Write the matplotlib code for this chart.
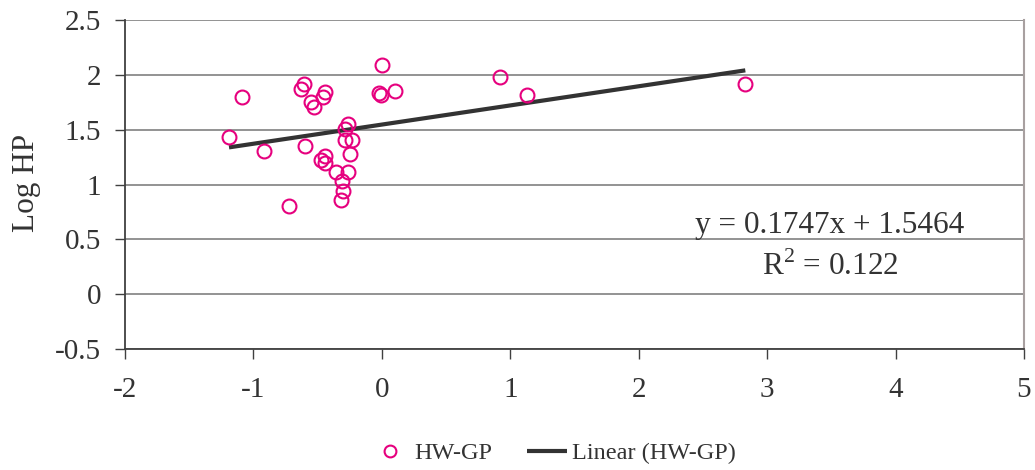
import matplotlib
matplotlib.use("Agg")
from matplotlib import rcParams
from matplotlib.pyplot import figure
from matplotlib.pyplot import close

rcParams["font.family"] = "Liberation Serif"
rcParams["mathtext.fontset"] = "custom"
rcParams["mathtext.rm"] = "Liberation Serif"

# scatter points (HW-GP)
hw_gp_x = [
    -1.19, -1.09, -0.92, -0.72, -0.63, -0.61, -0.60, -0.55, -0.53, -0.46,
    -0.44, -0.47, -0.44, -0.44, -0.36, -0.32, -0.31, -0.30, -0.29, -0.29,
    -0.26, -0.25, -0.26, -0.23, -0.02, -0.01, 0.00, 0.10, 0.92, 1.13, 2.83,
]
hw_gp_y = [
    1.43, 1.80, 1.31, 0.80, 1.87, 1.92, 1.35, 1.75, 1.71, 1.80,
    1.84, 1.22, 1.26, 1.20, 1.11, 0.86, 1.03, 0.94, 1.51, 1.41,
    1.11, 1.28, 1.55, 1.41, 1.83, 1.82, 2.09, 1.85, 1.98, 1.82, 1.92,
]

# trendline as printed on the chart
trend_slope = 0.1747
trend_intercept = 1.5464
trend_r2 = 0.122

x_ticks = [-2, -1, 0, 1, 2, 3, 4, 5]
y_ticks = [-0.5, 0, 0.5, 1, 1.5, 2, 2.5]

MAGENTA = "#e6007e"
DARK = "#333333"

fig = figure(figsize=(10.35, 4.7), dpi=100)
ax = fig.add_axes([125 / 1035, 121 / 470, 899 / 1035, 329 / 470])

ax.plot(
    hw_gp_x, hw_gp_y, "o",
    markersize=10, markerfacecolor="none", markeredgecolor=MAGENTA,
    markeredgewidth=1.5, label="HW-GP", zorder=3,
)

x_lo, x_hi = min(hw_gp_x), max(hw_gp_x)
ax.plot(
    [x_lo, x_hi],
    [trend_slope * x_lo + trend_intercept, trend_slope * x_hi + trend_intercept],
    color=DARK, linewidth=3, solid_capstyle="butt", label="Linear (HW-GP)", zorder=2,
)

ax.set_xlim(-2, 5)
ax.set_ylim(-0.5, 2.5)
ax.set_xticks(x_ticks)
ax.set_yticks(y_ticks)
ax.set_xticklabels([f"{v:g}" for v in x_ticks])
ax.set_yticklabels([f"{v:g}" for v in y_ticks])

ax.grid(axis="y", color="#808080", linewidth=1.2, zorder=0)
ax.set_axisbelow(True)

ax.spines["top"].set_visible(False)
ax.spines["right"].set_color("#a8a0a0")
ax.spines["right"].set_linewidth(1.5)
for side in ("left", "bottom"):
    ax.spines[side].set_color("#404040")
    ax.spines[side].set_linewidth(1.3)

ax.tick_params(
    axis="both", direction="out", length=7, width=1, color="#404040",
    labelsize=21, labelcolor=DARK,
)
ax.tick_params(axis="y", pad=10)
ax.tick_params(axis="x", pad=13)

ax.set_ylabel("Log HP", fontsize=22.5, color=DARK, va="center")
ax.yaxis.set_label_coords(-0.11, 0.505)

ax.text(3.49, 0.557, f"y = {trend_slope}x + {trend_intercept}",
        ha="center", va="baseline", fontsize=22.5, color=DARK)
ax.text(3.49, 0.173, f"R$^2$ = {trend_r2}",
        ha="center", va="baseline", fontsize=22.5, color=DARK)

fig.legend(
    loc="center", bbox_to_anchor=(0.534, 0.036), ncol=2, frameon=False,
    fontsize=17.5, handlelength=1.65, handletextpad=0.2, columnspacing=1.4,
    labelcolor=DARK, markerscale=0.85,
)

fig.savefig("out.png", dpi=100)
close(fig)
